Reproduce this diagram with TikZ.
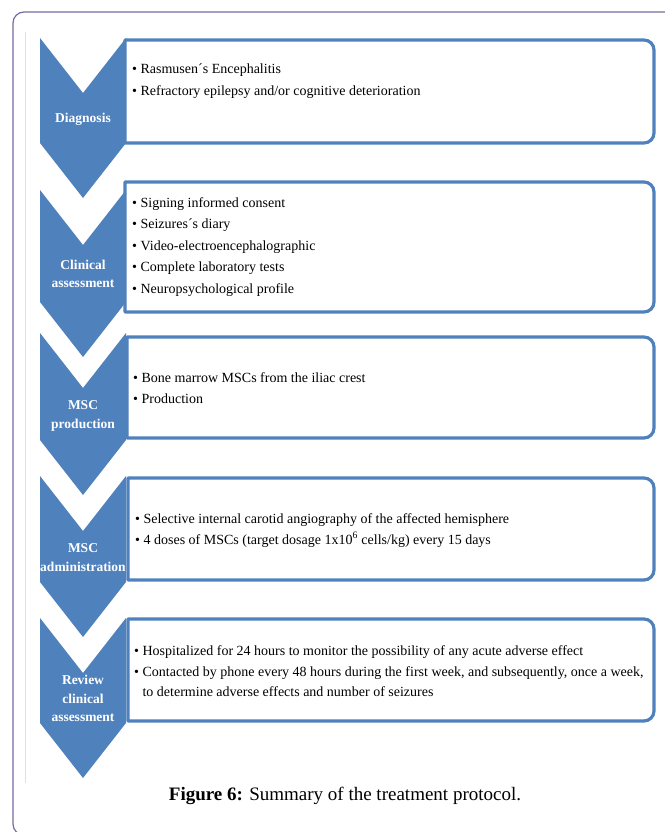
\documentclass[tikz,border=0pt]{standalone}
\usepackage{fontspec}
\setmainfont{Liberation Serif}
\definecolor{chevblue}{RGB}{79,129,189}
\definecolor{framepurple}{RGB}{118,104,166}
\tikzset{
  chevron/.style={fill=chevblue},
  boxline/.style={draw=chevblue,line width=3.2pt,fill=white,line join=round},
  stage/.style={text=white,font=\bfseries\fontsize{13.5}{18.5}\selectfont,align=center,inner sep=0pt},
  item/.style={anchor=base west,inner sep=0pt,font=\fontsize{14}{16}\selectfont},
}
\begin{document}
\begin{tikzpicture}[x=1pt,y=-1pt]
    \useasboundingbox (0,0) rectangle (664,832);

    \draw[framepurple,line width=1.2pt,rounded corners=11pt] (13,12) rectangle (680,835); %外枠
    \draw[black!12,line width=0.8pt] (25,32) -- (25,783); %図の左端

    % 矢羽
    \foreach \t/\s in {38/143,190/302,333/440,476/582,618/723}
        \fill[chevron] (40,\t) -- (83,\t+55) -- (126,\t) -- (126,\s) -- (83,\s+55) -- (40,\s) -- cycle;

    \node[stage] (diag) at (83,119) {Diagnosis};
    \node[stage] (clin) at (83,274) {Clinical\\assessment};
    \node[stage] (prod) at (83,416) {MSC\\production};
    \node[stage] (admin) at (83,557.5) {MSC\\administration};
    \node[stage] (review) at (83,698.5) {Review\\clinical\\assessment};

    % 右の枠
    \foreach \l/\t/\b in {125/40/143,125/182/312,127/337/438,128/478/580,128/619/721}
        \draw[boxline] (\l,\t) -- (644,\t) arc[start angle=-90,end angle=0,radius=10]
            -- (654,\b-10) arc[start angle=0,end angle=90,radius=10] -- (\l,\b) -- cycle;

    \foreach \txt [count=\i] in {Rasmusen´s Encephalitis,{Refractory epilepsy and/or cognitive deterioration}}
        \node[item] (diag-\i) at (132,{74+21.5*(\i-1)}) {\textbullet\ \txt};
    \foreach \txt [count=\i] in {Signing informed consent,Seizures´s diary,Video-electroencephalographic,
        Complete laboratory tests,Neuropsychological profile}
        \node[item] (clin-\i) at (132,{207+21.5*(\i-1)}) {\textbullet\ \txt};
    \foreach \txt [count=\i] in {Bone marrow MSCs from the iliac crest,Production}
        \node[item] (prod-\i) at (133,{382+21*(\i-1)}) {\textbullet\ \txt};
    \foreach \txt [count=\i] in {Selective internal carotid angiography of the affected hemisphere,
        {4 doses of MSCs (target dosage 1x10\textsuperscript{6} cells/kg) every 15 days}}
        \node[item] (admin-\i) at (135,{523+21*(\i-1)}) {\textbullet\ \txt};
    \foreach \txt [count=\i] in {Hospitalized for 24 hours to monitor the possibility of any acute adverse effect,
        {Contacted by phone every 48 hours during the first week, and subsequently, once a week,}}
        \node[item] (review-\i) at (134,{655+21*(\i-1)}) {\textbullet\ \txt};
    \node[item] (review-3) at (134,696) {\phantom{\textbullet\ }to determine adverse effects and number of seizures};

    \node[font=\fontsize{19}{22}\selectfont,anchor=base,inner sep=0pt] (caption) at (345,800)
        {\textbf{Figure 6:} Summary of the treatment protocol.};
\end{tikzpicture}
\end{document}
